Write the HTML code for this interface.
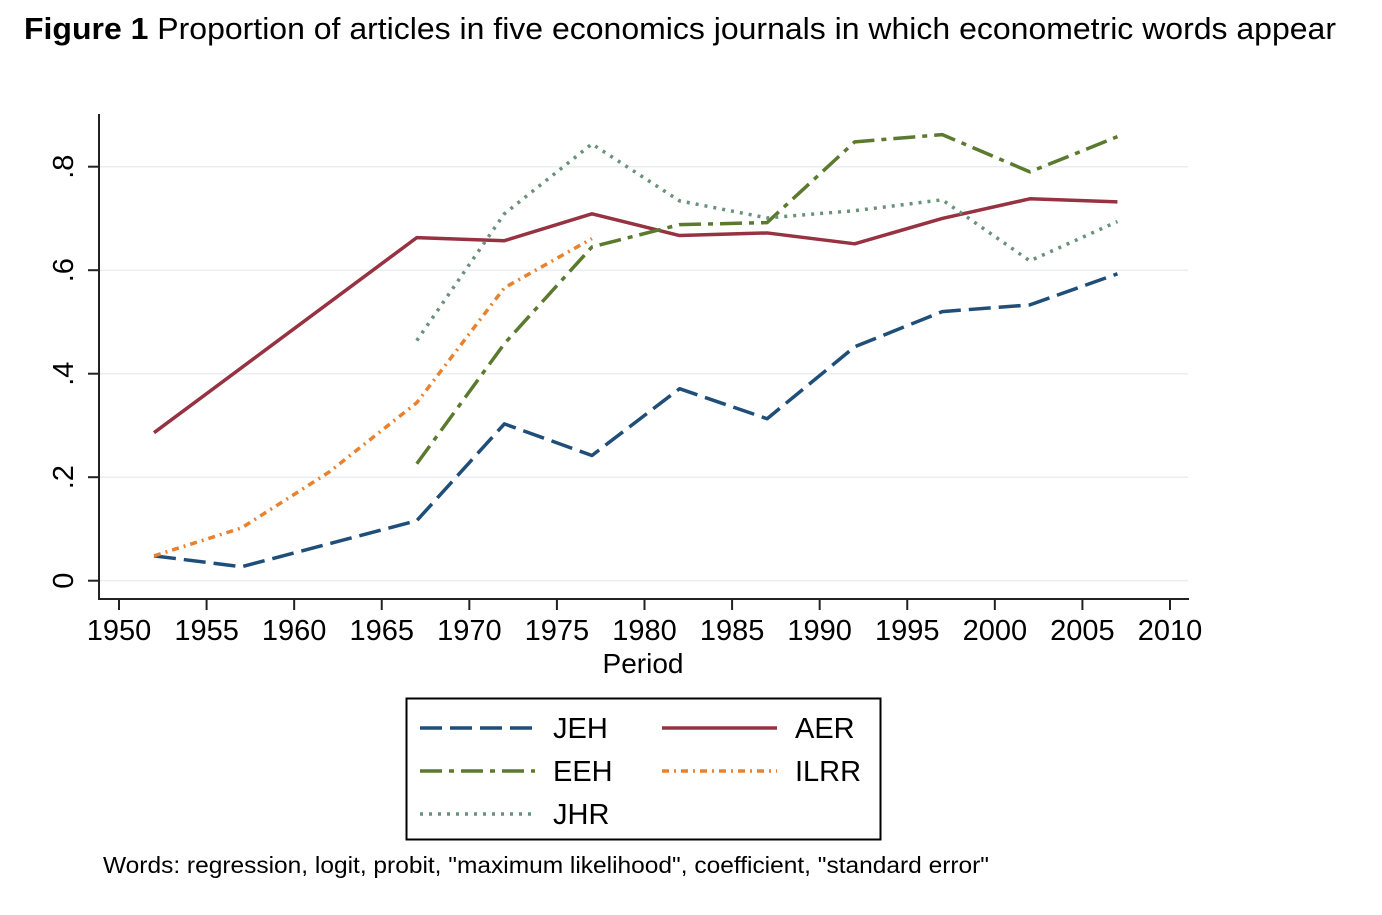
<!DOCTYPE html>
<html><head><meta charset="utf-8">
<style>
body{margin:0;background:#fff;width:1382px;height:910px;overflow:hidden;font-family:"Liberation Sans",Arial,sans-serif;}
svg text{font-family:"Liberation Sans",Arial,sans-serif;}
</style></head>
<body>
<svg width="1382" height="910">
<text x="24" y="39" font-size="31" fill="#000" textLength="1312" lengthAdjust="spacingAndGlyphs"><tspan font-weight="bold">Figure 1</tspan> Proportion of articles in five economics journals in which econometric words appear</text>
<g id="grid"></g>
<g id="axes"></g>
<g id="series"></g>
<text x="643" y="673" font-size="28" text-anchor="middle">Period</text>
<g>
<rect x="406.5" y="698.5" width="474" height="141" fill="#fff" stroke="#000" stroke-width="2"/>
<line x1="420" y1="728" x2="535" y2="728" stroke="#1f4e79" stroke-width="3.5" stroke-dasharray="22,8"/>
<text x="553" y="738" font-size="29">JEH</text>
<line x1="662" y1="728" x2="777" y2="728" stroke="#963241" stroke-width="3.5"/>
<text x="795" y="738" font-size="29">AER</text>
<line x1="420" y1="771" x2="535" y2="771" stroke="#5b7a2e" stroke-width="3.5" stroke-dasharray="22,7,5,7"/>
<text x="553" y="781" font-size="29">EEH</text>
<line x1="662" y1="771" x2="777" y2="771" stroke="#e8822f" stroke-width="3.5" stroke-dasharray="7,5,2,5"/>
<text x="795" y="781" font-size="29">ILRR</text>
<line x1="420" y1="814" x2="535" y2="814" stroke="#6a9179" stroke-width="3.5" stroke-dasharray="3,6"/>
<text x="553" y="824" font-size="29">JHR</text>
</g>
<text x="103" y="873" font-size="23" textLength="886" lengthAdjust="spacingAndGlyphs">Words: regression, logit, probit, "maximum likelihood", coefficient, "standard error"</text>
</svg>
<script>
const xTicks=[1950,1955,1960,1965,1970,1975,1980,1985,1990,1995,2000,2005,2010];
const yTicks=[0,0.2,0.4,0.6,0.8];
const yTickLabels=["0",".2",".4",".6",".8"];
const jehYears=[1952,1957,1967,1972,1977,1982,1987,1992,1997,2002,2007];
const jehValues=[0.048,0.027,0.116,0.303,0.242,0.371,0.313,0.452,0.52,0.533,0.593];
const aerYears=[1952,1967,1972,1977,1982,1987,1992,1997,2002,2007];
const aerValues=[0.286,0.663,0.657,0.709,0.667,0.672,0.651,0.70,0.738,0.732];
const eehYears=[1967,1972,1977,1982,1987,1992,1997,2002,2007];
const eehValues=[0.226,0.458,0.645,0.688,0.692,0.848,0.862,0.79,0.858];
const ilrrYears=[1952,1957,1962,1967,1972,1977];
const ilrrValues=[0.048,0.102,0.21,0.344,0.566,0.661];
const jhrYears=[1967,1972,1977,1982,1987,1992,1997,2002,2007];
const jhrValues=[0.464,0.709,0.844,0.734,0.701,0.715,0.736,0.618,0.694];

const NS="http://www.w3.org/2000/svg";
const X=v=>119+(v-1950)*(1051/60);
const Y=v=>580.7-v*(414/0.8);
function mk(tag,attrs,parent){const e=document.createElementNS(NS,tag);for(const k in attrs)e.setAttribute(k,attrs[k]);parent.appendChild(e);return e;}
const grid=document.getElementById('grid'),axes=document.getElementById('axes'),ser=document.getElementById('series');
yTicks.forEach((t,i)=>{
  const g=mk('line',{x1:99,x2:1188,y1:Y(t),y2:Y(t),stroke:'#e8eef2','stroke-width':1.5},grid);
  
  
  const tk=mk('line',{x1:88,x2:99,y1:Y(t),y2:Y(t),stroke:'#222','stroke-width':2},axes);
  
  
  const tx=mk('text',{x:0,y:0,'font-size':29,'text-anchor':'middle',transform:`translate(73,${Y(t)}) rotate(-90)`},axes);
  tx.textContent=yTickLabels[i];
  
  
});
xTicks.forEach(t=>{
  const tk=mk('line',{x1:X(t),x2:X(t),y1:599,y2:610,stroke:'#222','stroke-width':2},axes);
  
  
  const tx=mk('text',{x:X(t),y:640,'font-size':29,'text-anchor':'middle'},axes);
  tx.textContent=t;
  
  
});
const ya=mk('line',{x1:99,x2:99,y1:114,y2:600,stroke:'#222','stroke-width':2},axes);


const xa=mk('line',{x1:98,x2:1189,y1:599,y2:599,stroke:'#222','stroke-width':2},axes);


function line(xs,vs,color,dash,name){
  const p=mk('polyline',{points:xs.map((x,i)=>X(x)+','+Y(vs[i])).join(' '),fill:'none',stroke:color,'stroke-width':3.5,'stroke-dasharray':dash,'stroke-linejoin':'round'},ser);
  
  
}
line(aerYears,aerValues,'#963241','none','line-aer');
line(jehYears,jehValues,'#1f4e79','22,8','line-jeh');
line(eehYears,eehValues,'#5b7a2e','22,7,5,7','line-eeh');
line(ilrrYears,ilrrValues,'#e8822f','7,5,2,5','line-ilrr');
line(jhrYears,jhrValues,'#6a9179','3,6','line-jhr');
</script>
</body></html>
